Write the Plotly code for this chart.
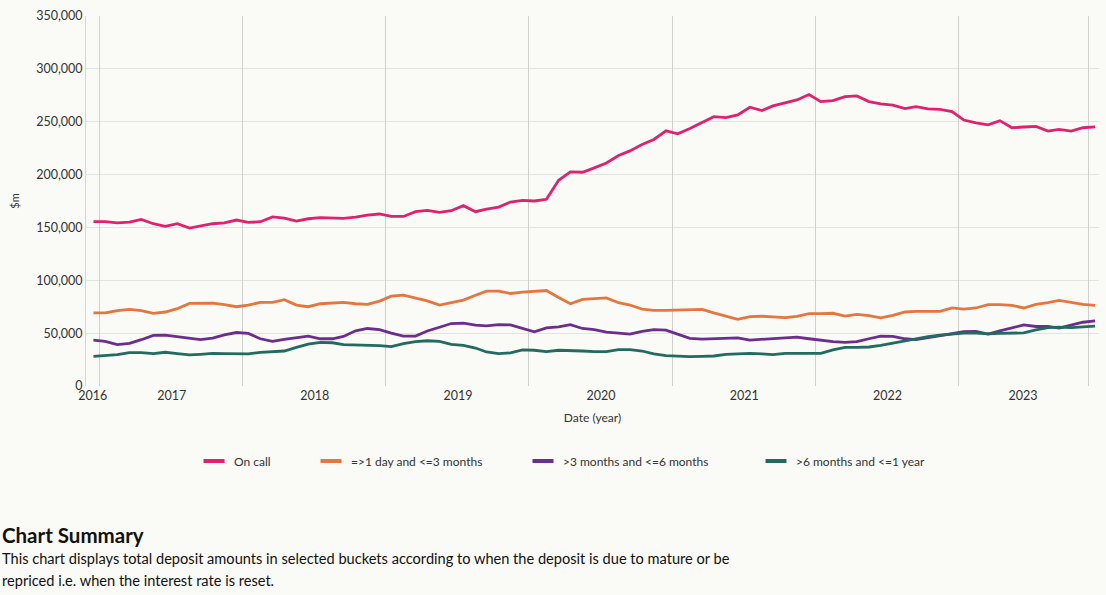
import plotly.graph_objects as go

# ---- data ($m), monthly, Jun 2016 .. Jun 2023 ----
start_year, start_month = 2016, 6

on_call = [155.4,155.4,154.4,155.0,157.6,153.5,151.0,153.5,149.4,151.3,
           153.5,154.4,157.0,154.7,155.4,160.0,158.9,156.0,158.2,159.2,
           159.2,158.5,159.8,161.7,162.7,160.4,160.4,164.9,166.1,164.2,
           165.8,170.6,164.9,167.4,169.3,174.0,175.6,175.0,176.6,194.6,
           202.5,202.2,206.3,211.0,218.0,222.4,228.4,233.2,241.4,238.6,
           243.6,249.0,254.8,253.8,256.4,263.7,260.5,265.0,267.5,270.6,
           275.7,269.0,270.0,273.8,274.4,269.0,266.8,265.6,262.4,264.3,
           262.1,261.7,259.5,251.6,249.0,247.1,251.0,244.3,245.0,245.6,
           241.1,242.7,241.1,244.3,245.2]

day_to_3m = [69.1,69.1,71.3,72.5,71.3,68.8,70.0,73.1,78.1,78.4,
             78.4,76.9,75.0,76.6,79.1,79.1,81.6,76.6,75.0,77.8,
             78.4,79.1,77.8,77.2,80.3,85.0,85.9,83.4,80.5,76.6,
             78.8,81.3,85.9,89.7,89.7,87.5,88.8,89.7,90.3,83.8,
             77.8,81.9,82.8,83.4,78.8,76.6,72.8,71.6,71.6,71.9,
             72.5,72.5,69.1,65.9,63.1,65.6,66.0,65.3,64.7,65.9,
             68.4,68.4,68.8,66.2,67.8,66.6,64.4,66.9,70.0,70.6,
             70.6,70.6,73.8,72.8,73.8,76.9,76.9,76.3,73.8,77.2,
             78.8,80.9,79.1,77.2,76.3]

m3_to_6m = [43.4,42.2,39.1,40.3,43.8,47.8,48.1,46.6,45.3,43.8,
            45.3,48.4,50.6,49.7,44.7,42.2,44.1,45.6,47.2,44.7,
            44.7,46.9,52.2,54.4,53.4,50.0,47.2,47.2,52.0,55.6,
            59.1,59.4,57.5,56.9,58.1,57.8,54.4,51.3,55.0,55.9,
            58.1,54.4,53.4,50.9,50.0,49.1,51.6,53.4,52.8,49.1,
            45.0,44.4,45.0,45.6,45.6,43.4,44.1,45.3,45.9,46.3,
            44.7,43.1,41.9,41.3,41.9,44.7,47.2,46.9,44.7,43.8,
            45.6,47.5,49.1,51.3,51.6,49.1,52.2,54.7,57.8,56.3,
            56.3,54.7,57.2,60.3,61.6]

m6_to_1y = [28.1,29.1,29.7,31.6,31.6,30.6,31.9,30.6,29.4,30.0,
            30.9,30.6,30.6,30.3,31.9,32.8,33.1,36.6,39.7,41.3,
            40.9,39.1,38.8,38.1,38.1,37.2,40.0,41.9,42.8,42.2,
            39.4,38.4,35.9,32.2,30.6,31.3,34.1,33.8,32.5,33.8,
            33.8,33.1,32.5,32.5,34.4,34.4,33.1,30.3,28.8,28.1,
            27.8,28.1,28.4,30.0,30.6,30.9,30.3,29.7,30.9,30.9,
            30.6,30.9,34.1,36.6,36.6,36.9,38.4,40.6,43.1,44.4,
            46.6,48.1,49.1,50.0,50.0,49.4,49.7,49.7,50.3,53.1,
            55.3,55.6,55.3,55.9,56.6]

series_names = ["On call", "=>1 day and <=3 months", ">3 months and <=6 months", ">6 months and <=1 year"]
series_colors = ["#E0226C", "#E5763E", "#6B2D8E", "#226B5F"]

tick_labels = ["2016", "2017", "2018", "2019", "2020", "2021", "2022", "2023"]
tick_dates = ["2016-06-13", "2017-01-01", "2018-01-01", "2019-01-01", "2020-01-01",
              "2021-01-01", "2022-01-01", "2022-12-13"]
grid_dates = ["2016-07-01", "2017-07-01", "2018-07-01", "2019-07-01", "2020-07-01",
              "2021-07-01", "2022-07-01", "2023-05-30"]
x_range = ["2016-05-27", "2023-06-25"]

y_ticks = [0, 50000, 100000, 150000, 200000, 250000, 300000, 350000]

# monthly category dates (mid-month)
dates = []
y, m = start_year, start_month
for _ in range(len(on_call)):
    dates.append(f"{y}-{m:02d}-15")
    m += 1
    if m > 12:
        m = 1
        y += 1

FONT = "Lato, 'Open Sans', sans-serif"
BG = "#FAFAF6"

fig = go.Figure()
all_series = [on_call, day_to_3m, m3_to_6m, m6_to_1y]
for name, vals, col in zip(series_names, all_series, series_colors):
    fig.add_trace(go.Scatter(
        x=dates, y=[v * 1000 for v in vals], mode="lines", name=name,
        line=dict(color=col, width=2.8), showlegend=False,
        hovertemplate="%{x|%b %Y}<br>%{y:,.0f}<extra>" + name + "</extra>"))

# legend entries (one legend each for exact placement)
legend_text_px = [234, 351, 563, 796]
plot_l, plot_w = 86, 1013
legend_keys = ["legend", "legend2", "legend3", "legend4"]
for k, (name, col) in enumerate(zip(series_names, series_colors)):
    fig.add_trace(go.Scatter(
        x=[None], y=[None], mode="markers", name=name,
        marker=dict(symbol="line-ew-open", size=15, color=col, line=dict(width=4, color=col)),
        legend=legend_keys[k], showlegend=True, hoverinfo="skip"))

# empty trace on gridline axis
fig.add_trace(go.Scatter(x=[], y=[], xaxis="x2", showlegend=False, hoverinfo="skip"))

layout_legends = {}
for k, key in enumerate(legend_keys):
    layout_legends[key] = dict(
        x=(legend_text_px[k] - 40 - plot_l) / plot_w, xanchor="left",
        y=-0.203, yanchor="middle", orientation="h",
        bgcolor="rgba(0,0,0,0)", borderwidth=0,
        font=dict(family=FONT, size=12, color="#333333"))

fig.update_layout(
    width=1106, height=595,
    margin=dict(l=86, r=7, t=16, b=209, autoexpand=False),
    paper_bgcolor=BG, plot_bgcolor=BG,
    font=dict(family=FONT, size=12, color="#333333"),
    xaxis=dict(type="date", range=x_range, tickvals=tick_dates, ticktext=tick_labels,
               showgrid=False, zeroline=False, showline=False, ticks="", automargin=False,
               tickfont=dict(size=12.5, color="#333333"),
               title=dict(text="Date (year)", font=dict(size=12, color="#333333"), standoff=12)),
    xaxis2=dict(type="date", range=x_range, overlaying="x", tickvals=grid_dates,
                showticklabels=False, showgrid=True, gridcolor="#CFCFCB", gridwidth=1,
                zeroline=False, showline=False, ticks="", layer="below traces", automargin=False),
    yaxis=dict(range=[0, 350000], tickvals=y_ticks, tickformat=",", showgrid=True,
               gridcolor="#E3E3DF", gridwidth=1.2, zeroline=False, automargin=False,
               showline=True, linecolor="#D6D6D2", linewidth=1, ticks="",
               tickfont=dict(size=12.5, color="#333333"),
               title=dict(text="$m", font=dict(size=11, color="#333333"), standoff=14)),
    **layout_legends,
)

# chart summary text below
summary_title = "Chart Summary"
summary_lines = ["This chart displays total deposit amounts in selected buckets according to when the deposit is due to mature or be",
                 "repriced i.e. when the interest rate is reset."]
x0 = -plot_l / plot_w
fig.add_annotation(text="<b>" + summary_title + "</b>", xref="paper", yref="paper",
                   x=x0, y=(386 - 535) / 370, xanchor="left", yanchor="middle",
                   showarrow=False, font=dict(family=FONT, size=20.5, color="#111111"))
for i, line in enumerate(summary_lines):
    fig.add_annotation(text=line, xref="paper", yref="paper",
                       x=x0, y=(386 - (558 + 22 * i)) / 370, xanchor="left", yanchor="middle",
                       showarrow=False, font=dict(family=FONT, size=14.6, color="#111111"))

fig.write_html(
    "out.html",
    config={"displayModeBar": False},
    post_script="document.body.style.margin='0';document.body.style.background='#FAFAF6';",
)
